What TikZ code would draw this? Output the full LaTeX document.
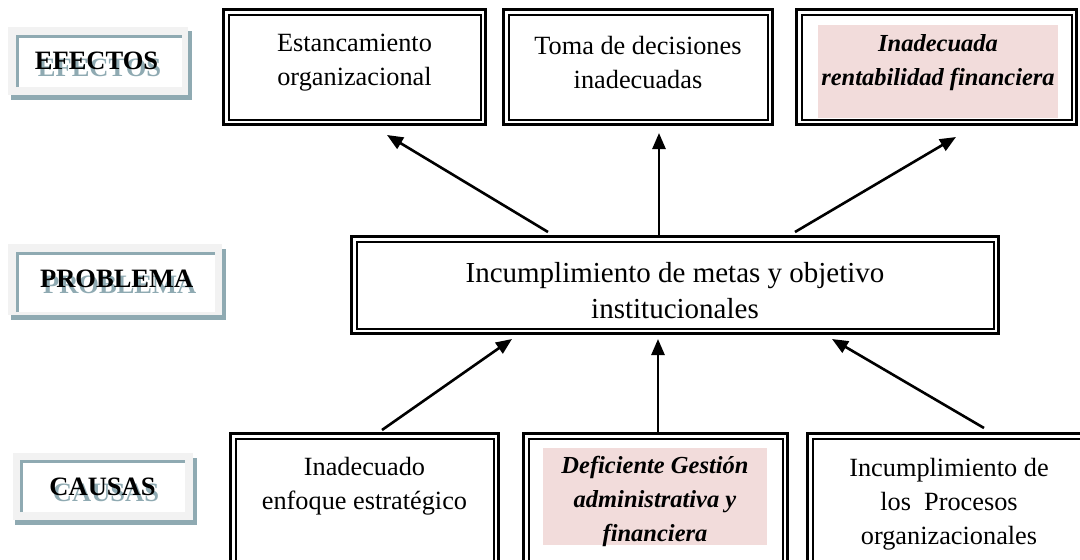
\documentclass[tikz,border=0pt]{standalone}
\usepackage{fontspec}
\setmainfont{Liberation Serif}
\usetikzlibrary{arrows.meta}
\definecolor{tealg}{RGB}{143,170,178}
\definecolor{lgray}{RGB}{242,242,242}
\definecolor{pinkf}{RGB}{242,220,219}
\tikzset{
 obox/.style={draw, line width=3pt, outer sep=0pt, inner sep=0pt, rectangle},
 ibox/.style={draw, line width=2pt},
 txt/.style={align=center, inner sep=0pt, font=\fontsize{26.3}{34}\selectfont},
 btxt/.style={align=center, inner sep=0pt, font=\fontsize{24.5}{34}\selectfont\bfseries\itshape},
 mtxt/.style={align=center, inner sep=0pt, font=\fontsize{29}{36}\selectfont},
 lbl/.style={anchor=base, inner sep=0pt, font=\fontsize{26.5}{30}\selectfont\bfseries},
 lblsh/.style={lbl, text=tealg},
 arr/.style={line width=2.6pt, -{Triangle[length=16pt,width=13pt]}},
}
\newcommand\dblbox[5]{%
  \pgfmathsetmacro\bw{#4-#2-3}\pgfmathsetmacro\bh{#5-#3-3}%
  \node[obox, minimum width=\bw pt, minimum height=\bh pt] (#1) at ({(#2+#4)/2},{(#3+#5)/2}) {};
  \draw[ibox] ([shift={(5,5)}]#1.north west) rectangle ([shift={(-5,-5)}]#1.south east);
}
\begin{document}
\begin{tikzpicture}[x=1pt,y=-1pt]
\useasboundingbox (0,0) rectangle (1080,560);
\clip (0,0) rectangle (1080,560);

% ---- side labels ----
\fill[tealg] (11,31) rectangle (192,100);
\fill[lgray] (8,27) rectangle (188,95);
\fill[white] (16,35) rectangle (182,87);
\draw[tealg, line width=3.5pt] (17.5,87) -- (17.5,36.5) -- (182,36.5);
\node[lblsh] (efs) at (99.5,76) {EFECTOS};
\node[lbl] (ef) at (96.5,69) {EFECTOS};

\fill[tealg] (11,249) rectangle (226,320);
\fill[lgray] (8,244) rectangle (222,315);
\fill[white] (16,252) rectangle (215,312);
\draw[tealg, line width=3.5pt] (17.5,312) -- (17.5,253.5) -- (215,253.5);
\node[lblsh] (prs) at (119.7,293.5) {PROBLEMA};
\node[lbl] (pr) at (116.7,287) {PROBLEMA};

\fill[tealg] (15,458) rectangle (197,525);
\fill[lgray] (13,453) rectangle (193,520);
\fill[white] (20,460) rectangle (185,512);
\draw[tealg, line width=3.5pt] (21.5,512) -- (21.5,461.5) -- (185,461.5);
\node[lblsh] (cas) at (106,501.5) {CAUSAS};
\node[lbl] (ca) at (102.5,495) {CAUSAS};

% ---- pink fills ----
\fill[pinkf] (818,25) rectangle (1058,118);
\fill[pinkf] (543,448) rectangle (767,545);

% ---- boxes ----
\dblbox{e1}{222}{8}{487}{126}
\dblbox{e2}{502}{8}{774}{126}
\dblbox{e3}{795}{8}{1078}{126}
\dblbox{prob}{350}{235}{1000}{335}
\dblbox{c1}{229}{432}{500}{575}
\dblbox{c2}{522}{432}{789}{575}
\dblbox{c3}{806}{432}{1092}{575}

% ---- texts ----
\node[txt] (t1) at (354.5,63) {Estancamiento\\organizacional};
\node[txt] (t2) at (638,63) {Toma de decisiones\\inadecuadas};
\node[btxt] (t3) at (938,63) {Inadecuada\\rentabilidad financiera};
\node[mtxt] (tp) at (675,291) {Incumplimiento de metas y objetivo\\institucionales};
\node[txt] (tc1) at (364.5,486) {Inadecuado\\enfoque estrat\'egico};
\node[btxt] (tc2) at (655,501) {Deficiente Gesti\'on\\administrativa y\\financiera};
\node[txt] (tc3) at (949,504.5) {Incumplimiento de\\los\ \ Procesos\\organizacionales};

% ---- arrows ----
\draw[arr] ([shift={(-127,-4.5)}]prob.north) -- ([shift={(32.5,10.5)}]e1.south);
\draw[arr] ([shift={(-16,0)}]prob.north) -- ([shift={(21,8.5)}]e2.south);
\draw[arr] ([shift={(120,-4.5)}]prob.north) -- ([shift={(19.5,12.5)}]e3.south);
\draw[arr] ([shift={(17.5,-3.5)}]c1.north) -- ([shift={(-163,5.5)}]prob.south);
\draw[arr] ([shift={(2.5,0)}]c2.north) -- ([shift={(-17,5.5)}]prob.south);
\draw[arr] ([shift={(35,-5.5)}]c3.north) -- ([shift={(157,5.5)}]prob.south);
\end{tikzpicture}
\end{document}
